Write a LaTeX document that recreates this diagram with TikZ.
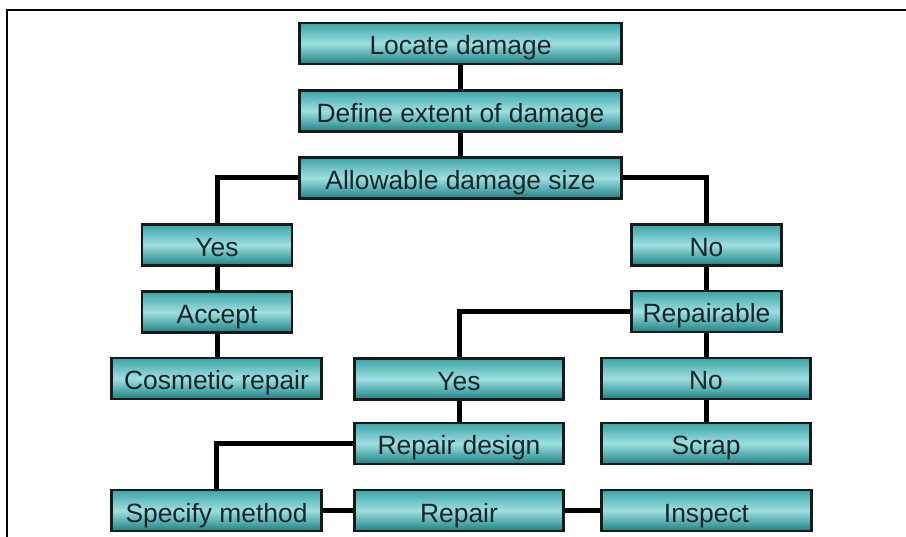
\documentclass[tikz,border=0pt]{standalone}
\usepackage{fontspec}
\setmainfont{Liberation Sans}
\usetikzlibrary{backgrounds}
\definecolor{boxtop}{HTML}{3AA4A6}
\definecolor{boxmid}{HTML}{9EDFE1}
\definecolor{boxbot}{HTML}{1B8284}
\definecolor{boxtext}{HTML}{16262B}
\tikzset{
  stepbox/.style={rectangle, draw=black!90, line width=2.6pt,
    top color=boxtop, bottom color=boxbot, middle color=boxmid,
    inner sep=0pt, outer sep=0pt, minimum height=41pt,
    text height=23pt, text depth=0pt,
    text=boxtext, font=\fontsize{26.4}{30}\selectfont},
  link/.style={draw=black, line width=5pt},
  frameline/.style={draw=black, line width=2.8pt}
}
\begin{document}
\begin{tikzpicture}[x=1pt, y=-1pt]
  \useasboundingbox (0,0) rectangle (906,537);
  % outer frame (top and left edges)
  \draw[frameline] (906,10) -- (7,10) -- (7,537);

  % main chain
  \node[stepbox, minimum width=322pt] (loc)   at (460.5,43.5) {Locate damage};
  \node[stepbox, minimum width=322pt] (ext)   at (460.5,111)  {Define extent of damage};
  \node[stepbox, minimum width=322pt] (allow) at (460.5,178)  {Allowable damage size};

  % left branch: acceptable damage
  \node[stepbox, minimum width=150pt] (yesA)   at (217,245)   {Yes};
  \node[stepbox, minimum width=150pt] (accept) at (217,312)   {Accept};
  \node[stepbox, minimum width=210pt] (cosm)   at (216.5,378.5) {Cosmetic repair};

  % right branch: damage too large
  \node[stepbox, minimum width=150pt] (noA)    at (706.5,245)   {No};
  \node[stepbox, minimum width=150pt] (rep)    at (706.5,311.5) {Repairable};
  \node[stepbox, minimum width=209pt] (yesB)   at (459,379)     {Yes};
  \node[stepbox, minimum width=209pt] (design) at (459,443.5)   {Repair design};
  \node[stepbox, minimum width=209pt] (noB)    at (706,378.5)   {No};
  \node[stepbox, minimum width=209pt] (scrap)  at (706,443.5)   {Scrap};

  % repair sequence
  \node[stepbox, minimum width=210pt] (spec)    at (216.5,510.5) {Specify method};
  \node[stepbox, minimum width=209pt] (repair)  at (459,510.5)   {Repair};
  \node[stepbox, minimum width=210pt] (inspect) at (706.5,510.5) {Inspect};

  \begin{pgfonlayer}{background}
    \draw[link] (loc.south) -- (ext.north);
    \draw[link] (ext.south) -- (allow.north);
    \draw[link] (allow.west) -| (yesA.north);
    \draw[link] (allow.east) -| (noA.north);
    \draw[link] (yesA.south) -- (accept.north);
    \draw[link] (accept.south) -- (cosm.north -| accept.south);
    \draw[link] (noA.south) -- (rep.north);
    \draw[link] (rep.west) -| (yesB.north);
    \draw[link] (rep.south) -- (noB.north -| rep.south);
    \draw[link] (noB.south) -- (scrap.north);
    \draw[link] (yesB.south) -- (design.north);
    \draw[link] (design.west) -| (spec.north);
    \draw[link] (spec.east) -- (repair.west);
    \draw[link] (repair.east) -- (inspect.west);
  \end{pgfonlayer}
\end{tikzpicture}
\end{document}
